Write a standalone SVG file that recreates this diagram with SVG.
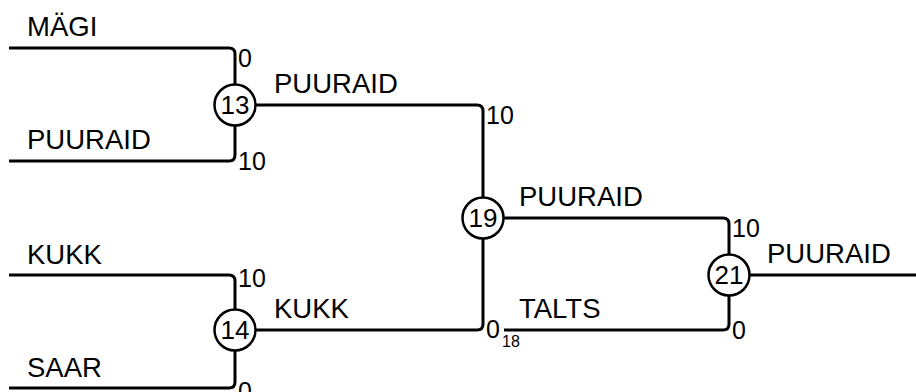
<svg xmlns="http://www.w3.org/2000/svg" width="916" height="392" viewBox="0 0 916 392">
<style>
.ln{fill:none;stroke:#000;stroke-width:3}
.nd{fill:#fff;stroke:#000;stroke-width:2.5}
text{font-family:"Liberation Sans",Arial,sans-serif;fill:#000}
.lb{font-size:27.5px}
.nm{font-size:25px}
.nt{font-size:26px;text-anchor:middle}
.sb{font-size:16px}
</style>
<rect width="916" height="392" fill="#fff"/>
<g id="connectors">
<path class="ln" d="M9 48 H229 Q235 48 235 54 V84"/>
<path class="ln" d="M9 161 H229 Q235 161 235 155 V126"/>
<path class="ln" d="M9 275 H229 Q235 275 235 281 V309"/>
<path class="ln" d="M9 388 H229 Q235 388 235 382 V351"/>
<path class="ln" d="M256 105 H477 Q483 105 483 111 V197"/>
<path class="ln" d="M256 330 H477 Q483 330 483 324 V239"/>
<path class="ln" d="M504 218 H723 Q729 218 729 224 V254"/>
<path class="ln" d="M504 330 H723 Q729 330 729 324 V296"/>
<path class="ln" d="M750 275 H916"/>
</g>
<g id="labels">
<text class="lb" x="27" y="36">MÄGI</text>
<text class="lb" x="27" y="149">PUURAID</text>
<text class="lb" x="27" y="264">KUKK</text>
<text class="lb" x="27" y="377">SAAR</text>
<text class="lb" x="274" y="93">PUURAID</text>
<text class="lb" x="274" y="318">KUKK</text>
<text class="lb" x="519" y="206">PUURAID</text>
<text class="lb" x="519" y="318">TALTS</text>
<text class="lb" x="767" y="263">PUURAID</text>
<text class="nm" x="238" y="67">0</text>
<text class="nm" x="238" y="170">10</text>
<text class="nm" x="238" y="287">10</text>
<text class="nm" x="238" y="400">0</text>
<text class="nm" x="486" y="124">10</text>
<text class="nm" x="486" y="338">0</text>
<text class="sb" x="502" y="347">18</text>
<text class="nm" x="732" y="237">10</text>
<text class="nm" x="732" y="339">0</text>
</g>
<g id="n13"><circle class="nd" cx="235" cy="105" r="20.5"/><text class="nt" x="235" y="114">13</text></g>
<g id="n14"><circle class="nd" cx="235" cy="330" r="20.5"/><text class="nt" x="235" y="339">14</text></g>
<g id="n19"><circle class="nd" cx="483" cy="218" r="20.5"/><text class="nt" x="483" y="227">19</text></g>
<g id="n21"><circle class="nd" cx="729" cy="275" r="20.5"/><text class="nt" x="729" y="284">21</text></g>
</svg>
